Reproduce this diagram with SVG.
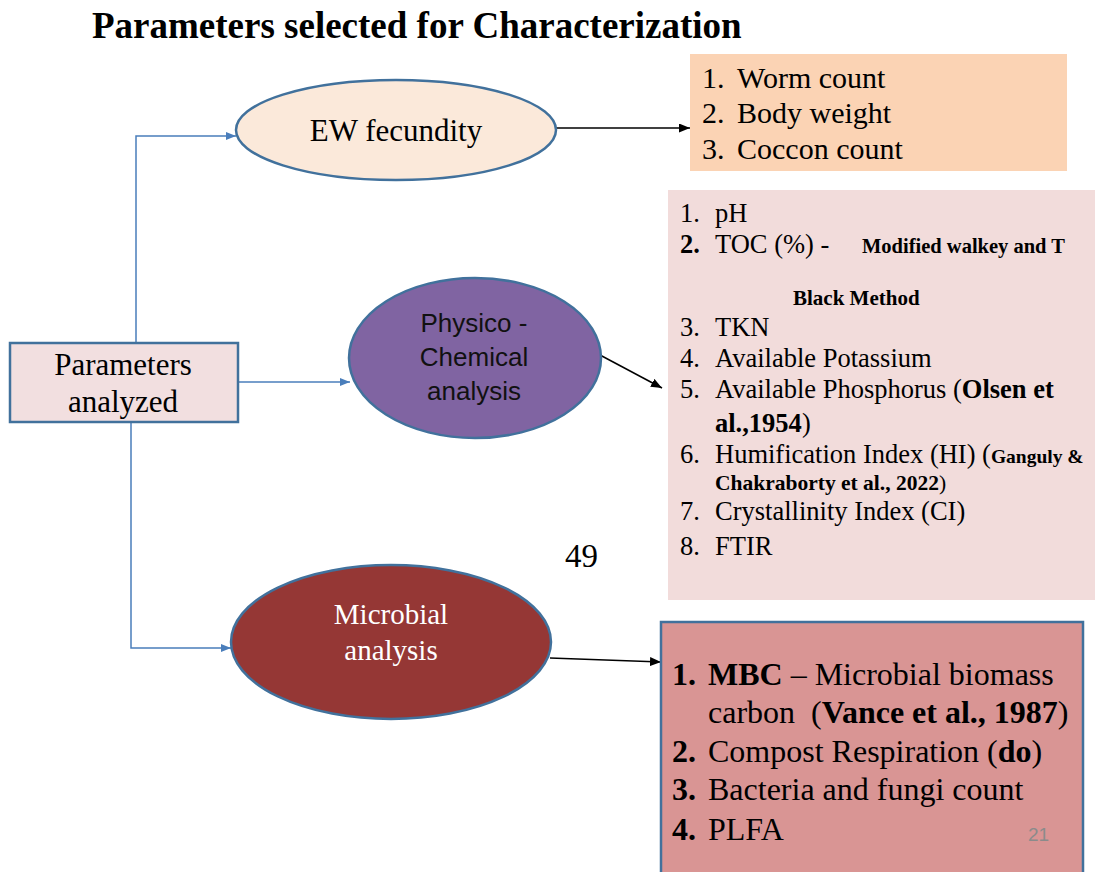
<svg xmlns="http://www.w3.org/2000/svg" width="1095" height="872" viewBox="0 0 1095 872">
<defs>
<marker id="ab" markerWidth="10" markerHeight="8" refX="10" refY="4" orient="auto" markerUnits="userSpaceOnUse"><path d="M0,0 L10,4 L0,8 Z" fill="#4a7ebb"/></marker>
<marker id="ak" markerWidth="11" markerHeight="9" refX="11" refY="4.5" orient="auto" markerUnits="userSpaceOnUse"><path d="M0,0 L11,4.5 L0,9 Z" fill="#000"/></marker>
</defs>
<style>
.serif{font-family:"Liberation Serif","Times New Roman",serif;}
.sans{font-family:"Liberation Sans",Arial,sans-serif;}
.b{font-weight:bold;}
.blue{fill:none;stroke:#4a7ebb;stroke-width:1.5;marker-end:url(#ab);}
.blk{fill:none;stroke:#000;stroke-width:1.5;marker-end:url(#ak);}
.node{stroke:#41719c;stroke-width:2.5;}
</style>
<rect width="1095" height="872" fill="#fff"/>
<text class="serif b" x="92" y="38" font-size="37">Parameters selected for Characterization</text>

<g id="connectors">
<polyline class="blue" points="136,343 136,136 236,136"/>
<polyline class="blue" points="238,382 350,382"/>
<polyline class="blue" points="131,422 131,648 231,648"/>
<line class="blk" x1="556" y1="128" x2="690" y2="128"/>
<line class="blk" x1="600" y1="355" x2="662" y2="388"/>
<line class="blk" x1="550" y1="658" x2="661" y2="662"/>
</g>

<g id="root">
<rect class="node" x="10" y="343" width="228" height="79" fill="#f2dfe0"/>
<text class="serif" font-size="31" text-anchor="middle" x="123" y="375">Parameters</text>
<text class="serif" font-size="31" text-anchor="middle" x="123" y="412">analyzed</text>
</g>

<g id="ew">
<ellipse class="node" cx="396" cy="130" rx="160" ry="50" fill="#fbe9da"/>
<text class="serif" font-size="31" text-anchor="middle" x="396" y="141">EW fecundity</text>
</g>

<g id="ew-list">
<rect x="690" y="54" width="377" height="117" fill="#fbd3b4"/>
<g class="serif" font-size="30" fill="#000">
<text x="702" y="88">1.</text><text x="737" y="88">Worm count</text>
<text x="702" y="123">2.</text><text x="737" y="123">Body weight</text>
<text x="702" y="159">3.</text><text x="737" y="159">Coccon count</text>
</g>
</g>

<g id="physico">
<ellipse class="node" cx="475" cy="358" rx="126" ry="80" fill="#8064a2"/>
<g class="sans" font-size="26" text-anchor="middle" fill="#111">
<text x="474" y="332">Physico -</text>
<text x="474" y="366">Chemical</text>
<text x="474" y="400">analysis</text>
</g>
</g>

<g id="physico-list">
<rect x="668" y="190" width="427" height="410" fill="#f2dcdb"/>
<g class="serif" font-size="26.5" fill="#000">
<text x="680" y="222">1.</text><text x="715" y="222">pH</text>
<text x="680" y="253" class="serif b">2.</text><text x="715" y="253">TOC (%) -</text>
<text x="862" y="253" class="serif b" font-size="20.5">Modified walkey and T</text>
<text x="793" y="305" class="serif b" font-size="21">Black Method</text>
<text x="680" y="336">3.</text><text x="715" y="336">TKN</text>
<text x="680" y="367">4.</text><text x="715" y="367">Available Potassium</text>
<text x="680" y="398">5.</text><text x="715" y="398">Available Phosphorus (<tspan font-weight="bold">Olsen et</tspan></text>
<text x="715" y="432"><tspan font-weight="bold">al.,1954</tspan>)</text>
<text x="680" y="463">6.</text><text x="715" y="463">Humification Index (HI) (<tspan font-weight="bold" font-size="19.5">Ganguly &amp;</tspan></text>
<text x="715" y="490" font-size="21.5"><tspan font-weight="bold">Chakraborty et al., 2022</tspan>)</text>
<text x="680" y="520">7.</text><text x="715" y="520">Crystallinity Index (CI)</text>
<text x="680" y="555">8.</text><text x="715" y="555">FTIR</text>
</g>
</g>

<text class="serif" font-size="33" x="565" y="567">49</text>

<g id="microbial">
<ellipse class="node" cx="391" cy="642" rx="160" ry="77" fill="#953735"/>
<g class="serif" font-size="29" text-anchor="middle" fill="#fff">
<text x="391" y="624">Microbial</text>
<text x="391" y="660">analysis</text>
</g>
</g>

<g id="microbial-list">
<rect class="node" x="661" y="622" width="422" height="260" fill="#d99594"/>
<g class="serif" font-size="32" fill="#000">
<text x="672" y="685" font-weight="bold">1.</text><text x="708" y="685"><tspan font-weight="bold">MBC</tspan> – Microbial biomass</text>
<text x="708" y="723">carbon&#160; (<tspan font-weight="bold">Vance et al., 1987</tspan>)</text>
<text x="672" y="762" font-weight="bold">2.</text><text x="708" y="762">Compost Respiration (<tspan font-weight="bold">do</tspan>)</text>
<text x="672" y="800" font-weight="bold">3.</text><text x="708" y="800">Bacteria and fungi count</text>
<text x="672" y="840" font-weight="bold">4.</text><text x="708" y="840">PLFA</text>
</g>
<text class="sans" x="1028" y="841" font-size="19" fill="#8b8b8b">21</text>
</g>
</svg>
